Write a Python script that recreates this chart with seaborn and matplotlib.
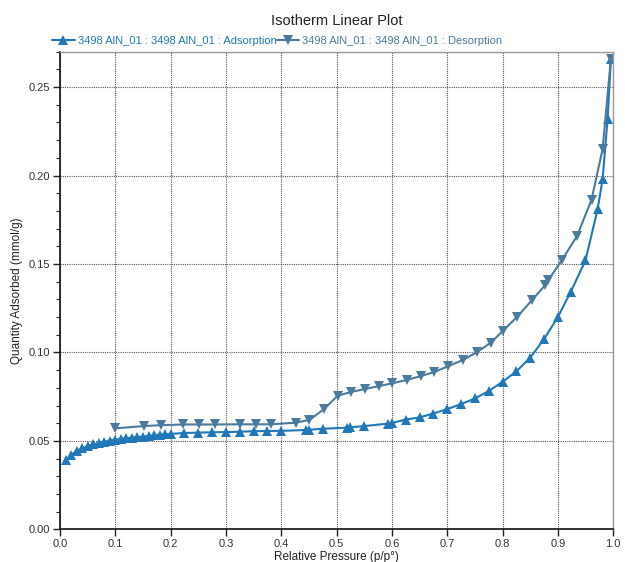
import matplotlib
matplotlib.use("Agg")
import matplotlib.pyplot as plt
from matplotlib.ticker import MultipleLocator, FormatStrFormatter
import seaborn as sns
import pandas as pd

# Adsorption branch (increasing relative pressure)
ads_p = [0.01, 0.02, 0.03, 0.04, 0.05, 0.06, 0.07, 0.08, 0.09, 0.10,
         0.11, 0.12, 0.13, 0.14, 0.15, 0.16, 0.17, 0.18, 0.19, 0.20,
         0.225, 0.25, 0.275, 0.30, 0.325, 0.35, 0.375, 0.40, 0.445, 0.45,
         0.475, 0.518, 0.524, 0.55, 0.593, 0.60, 0.625, 0.65, 0.675, 0.70,
         0.725, 0.75, 0.775, 0.80, 0.825, 0.85, 0.875, 0.90, 0.923, 0.95,
         0.972, 0.981, 0.990, 0.996]
ads_q = [0.0390, 0.0420, 0.0443, 0.0458, 0.0470, 0.0480, 0.0488, 0.0495, 0.0502, 0.0507,
         0.0511, 0.0515, 0.0519, 0.0522, 0.0525, 0.0528, 0.0531, 0.0534, 0.0537, 0.0540,
         0.0545, 0.0547, 0.0549, 0.0550, 0.0552, 0.0555, 0.0556, 0.0557, 0.0562, 0.0563,
         0.0569, 0.0575, 0.0577, 0.0584, 0.0598, 0.0601, 0.0621, 0.0633, 0.0655, 0.0680,
         0.0708, 0.0740, 0.0782, 0.0834, 0.0893, 0.0970, 0.1075, 0.1200, 0.1340, 0.1520,
         0.1810, 0.1980, 0.2320, 0.2660]

# Desorption branch (decreasing relative pressure)
des_p = [0.996, 0.981, 0.961, 0.935, 0.907, 0.883, 0.877, 0.853, 0.826, 0.80,
         0.779, 0.753, 0.728, 0.702, 0.677, 0.652, 0.627, 0.601, 0.577, 0.552,
         0.527, 0.502, 0.477, 0.451, 0.426, 0.381, 0.354, 0.326, 0.280, 0.251,
         0.223, 0.182, 0.151, 0.0995]
des_q = [0.2660, 0.2150, 0.1864, 0.1660, 0.1520, 0.1410, 0.1380, 0.1295, 0.1200, 0.1120,
         0.1056, 0.1000, 0.0957, 0.0923, 0.0890, 0.0866, 0.0845, 0.0826, 0.0810, 0.0794,
         0.0777, 0.0756, 0.0679, 0.0619, 0.0603, 0.0594, 0.0594, 0.0594, 0.0593, 0.0593,
         0.0593, 0.0589, 0.0584, 0.0571]

ads_label = "3498 AlN_01 : 3498 AlN_01 : Adsorption"
des_label = "3498 AlN_01 : 3498 AlN_01 : Desorption"
ads_color = "#2178b8"
des_color = "#4b7b9c"

sns.set_style("white")
plt.rcParams["font.family"] = ["Liberation Sans", "DejaVu Sans"]

fig = plt.figure(figsize=(6.25, 5.62), dpi=100)
ax = fig.add_axes([0.096, 0.058, 0.885, 0.850])

ads = pd.DataFrame({"p": ads_p, "q": ads_q})
des = pd.DataFrame({"p": des_p, "q": des_q})

sns.lineplot(data=ads, x="p", y="q", sort=False, ax=ax, color=ads_color,
             marker="^", markersize=6.5, markeredgewidth=0, linewidth=1.5,
             label=ads_label, legend=False)
sns.lineplot(data=des, x="p", y="q", sort=False, ax=ax, color=des_color,
             marker="v", markersize=6.5, markeredgewidth=0, linewidth=1.5,
             label=des_label, legend=False)

ax.set_xlim(0.0, 1.0)
ax.set_ylim(0.0, 0.27)
ax.xaxis.set_major_locator(MultipleLocator(0.1))
ax.xaxis.set_major_formatter(FormatStrFormatter("%.1f"))
ax.yaxis.set_major_locator(MultipleLocator(0.05))
ax.yaxis.set_minor_locator(MultipleLocator(0.01))
ax.yaxis.set_major_formatter(FormatStrFormatter("%.2f"))

ax.tick_params(axis="both", which="major", direction="out", length=5, width=1,
               color="#222222", labelsize=8, labelcolor="#333333", pad=2,
               left=True, bottom=True)
ax.tick_params(axis="y", which="minor", direction="out", length=3, width=0.8,
               color="#222222", left=True)

ax.grid(True, which="major", linestyle=(0, (1, 1)), color="#555555", linewidth=0.8)
ax.set_axisbelow(True)

for side in ("left", "bottom"):
    ax.spines[side].set_color("#111111")
    ax.spines[side].set_linewidth(1.2)
for side in ("top", "right"):
    ax.spines[side].set_color("#999999")
    ax.spines[side].set_linewidth(1.0)

ax.set_xlabel("Relative Pressure (p/p°)", fontsize=8.5, color="#222222", labelpad=1)
ax.set_ylabel("Quantity Adsorbed (mmol/g)", fontsize=8.5, color="#222222", labelpad=4)
ax.set_title("Isotherm Linear Plot", fontsize=10.5, color="#222222", pad=19)

handles, labels = ax.get_legend_handles_labels()
leg = fig.legend(handles, labels, loc="lower left", bbox_to_anchor=(0.082, 0.917),
                 ncol=2, frameon=False, fontsize=8, handlelength=2.0,
                 handletextpad=0.3, columnspacing=0.0, borderaxespad=0.0,
                 borderpad=0.1)
for text, col in zip(leg.get_texts(), (ads_color, des_color)):
    text.set_color(col)

fig.savefig("out.png", dpi=100)
